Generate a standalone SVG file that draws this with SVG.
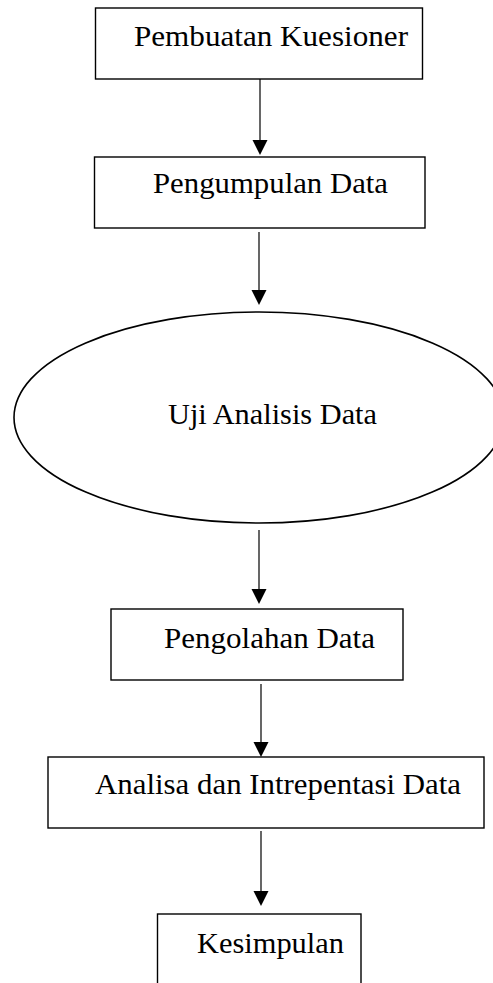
<svg xmlns="http://www.w3.org/2000/svg" width="493" height="983" viewBox="0 0 493 983">
<style>
.box{fill:#fff;stroke:#000;stroke-width:1.4}
.lbl{font-family:"Liberation Serif","Times New Roman",serif;font-size:29px;fill:#000}
.con{stroke:#000;stroke-width:1.2;fill:none}
.head{fill:#000}
</style>
<rect width="493" height="983" fill="#fff"/>
<g id="connectors">
<line class="con" x1="260" y1="79" x2="260" y2="141"/>
<polygon class="head" points="252.5,140 267.5,140 260,155"/>
<line class="con" x1="259" y1="232" x2="259" y2="291"/>
<polygon class="head" points="251.5,290 266.5,290 259,305"/>
<line class="con" x1="259" y1="530" x2="259" y2="590"/>
<polygon class="head" points="251.5,589 266.5,589 259,604"/>
<line class="con" x1="261" y1="684" x2="261" y2="743"/>
<polygon class="head" points="253.5,742 268.5,742 261,757"/>
<line class="con" x1="261" y1="831" x2="261" y2="892"/>
<polygon class="head" points="253.5,891 268.5,891 261,906"/>
</g>
<g id="n1">
<rect class="box" x="95.5" y="8" width="327" height="71"/>
<text class="lbl" x="134" y="46" textLength="274" lengthAdjust="spacingAndGlyphs">Pembuatan Kuesioner</text>
</g>
<g id="n2">
<rect class="box" x="94.5" y="157" width="330.5" height="71"/>
<text class="lbl" x="153" y="193" textLength="235" lengthAdjust="spacingAndGlyphs">Pengumpulan Data</text>
</g>
<g id="n3">
<ellipse class="box" cx="259" cy="417.5" rx="245" ry="105.5" style="stroke-width:1.6"/>
<text class="lbl" x="168" y="424" textLength="209" lengthAdjust="spacingAndGlyphs">Uji Analisis Data</text>
</g>
<g id="n4">
<rect class="box" x="111" y="609" width="292" height="71"/>
<text class="lbl" x="164" y="648" textLength="211" lengthAdjust="spacingAndGlyphs">Pengolahan Data</text>
</g>
<g id="n5">
<rect class="box" x="48" y="757" width="436" height="71"/>
<text class="lbl" x="95" y="794" textLength="366" lengthAdjust="spacingAndGlyphs">Analisa dan Intrepentasi Data</text>
</g>
<g id="n6">
<rect class="box" x="157.5" y="914" width="203.5" height="90"/>
<text class="lbl" x="197" y="953" textLength="147" lengthAdjust="spacingAndGlyphs">Kesimpulan</text>
</g>
</svg>
